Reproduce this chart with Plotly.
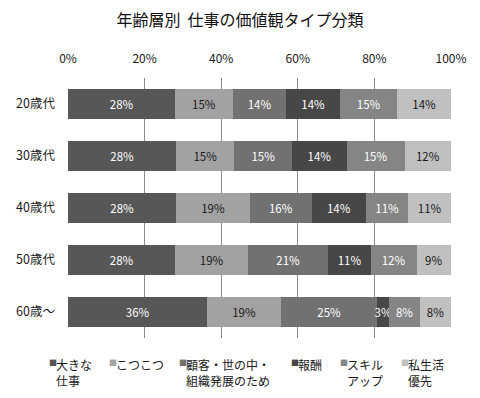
import plotly.graph_objects as go

categories = ['20歳代', '30歳代', '40歳代', '50歳代', '60歳～']
series_names = ['大きな仕事', 'こつこつ', '顧客・世の中・組織発展のため', '報酬', 'スキルアップ', '私生活優先']
legend_labels = ['大きな<br>仕事', 'こつこつ', '顧客・世の中・<br>組織発展のため', '報酬', 'スキル<br>アップ', '私生活<br>優先']
big_work = [28, 28, 28, 28, 36]
steady = [15, 15, 19, 19, 19]
society = [14, 15, 16, 21, 25]
reward = [14, 14, 14, 11, 3]
skill_up = [15, 15, 11, 12, 8]
private = [14, 12, 11, 9, 8]
series_values = [big_work, steady, society, reward, skill_up, private]
colors = ['#575757', '#a2a2a2', '#717171', '#474747', '#858585', '#c0c0c0']
text_colors = ['#ffffff', '#1a1a1a', '#ffffff', '#ffffff', '#ffffff', '#1a1a1a']
x_ticks = [0, 20, 40, 60, 80, 100]

FONT = 'Noto Sans CJK JP'
OFF = 8  # default page body margin
W, H = 480 - OFF, 398 - OFF
ML, MR, MT, MB = 68 - OFF, 29, 78 - OFF, 60

fig = go.Figure()
for name, vals, col, tcol in zip(series_names, series_values, colors, text_colors):
    fig.add_trace(go.Bar(
        y=categories, x=vals, name=name, orientation='h',
        marker=dict(color=col, line=dict(width=0)),
        text=[f'{v}%' for v in vals], textposition='inside',
        insidetextanchor='middle', textangle=0, constraintext='none',
        insidetextfont=dict(color=tcol, size=11.5, family=FONT),
        showlegend=False, hoverinfo='skip', cliponaxis=False,
    ))

# legend drawn as annotations (page-pixel positions)
pw = W - ML - MR
ph = H - MT - MB
legend_px = [47, 107, 177, 289, 338, 399]
legend_top = 355
for lbl, col, px in zip(legend_labels, colors, legend_px):
    fx = px - OFF
    fy = legend_top - OFF
    fig.add_annotation(xref='paper', yref='paper', x=(fx - ML) / pw,
                       y=(H - MB - fy) / ph,
                       xanchor='left', yanchor='top', showarrow=False,
                       text='■', font=dict(size=8, color=col, family=FONT))
    fig.add_annotation(xref='paper', yref='paper', x=(fx + 7 - ML) / pw,
                       y=(H - MB - fy + 1) / ph,
                       xanchor='left', yanchor='top', align='left', showarrow=False,
                       text=lbl, font=dict(size=12, color='#1a1a1a', family=FONT))

fig.update_layout(
    width=W, height=H,
    margin=dict(l=ML, r=MR, t=MT, b=MB),
    barmode='stack', barnorm='percent', bargap=0.42,
    plot_bgcolor='white', paper_bgcolor='white',
    font=dict(family=FONT, color='#1a1a1a'),
    title=dict(text='年齢層別&nbsp;&nbsp;仕事の価値観タイプ分類', x=(240 - OFF) / W, xanchor='center',
               y=1 - (20 - OFF) / H, yanchor='middle', font=dict(size=16, color='#111111', family=FONT)),
    xaxis=dict(side='top', range=[0, 100.0001], tickvals=x_ticks, ticktext=[f'{t}%' for t in x_ticks],
               showgrid=True, gridcolor='#8c8c8c', gridwidth=1, zeroline=False,
               showline=False, ticks='', tickfont=dict(size=12, family=FONT), ticklabelstandoff=12,
               automargin=False, fixedrange=True),
    yaxis=dict(autorange='reversed', showgrid=False, zeroline=False, showline=False, ticks='',
               tickfont=dict(size=12.5, family=FONT), ticklabelstandoff=12, automargin=False),
)

fig.write_html('out.html')
